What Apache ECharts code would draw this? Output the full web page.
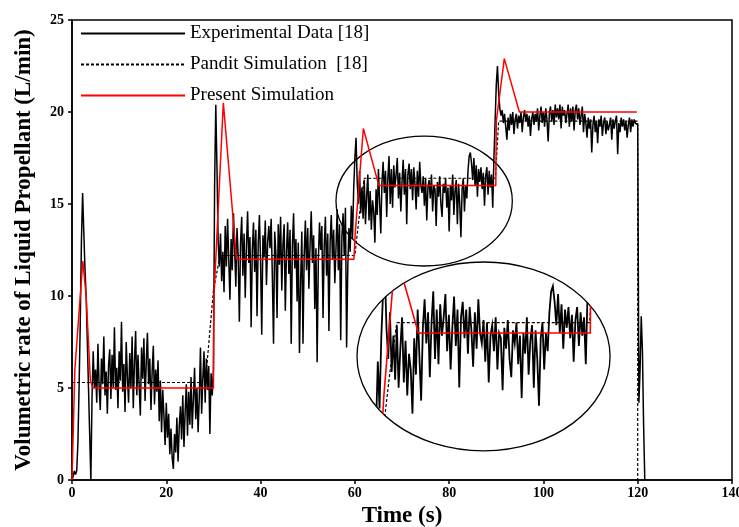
<!DOCTYPE html>
<html>
<head>
<meta charset="utf-8">
<script src="https://cdn.jsdelivr.net/npm/echarts@6/dist/echarts.min.js"></script>
<style>
html,body{margin:0;padding:0;background:#fff}
#main{width:739px;height:527px}
</style>
</head>
<body>
<div id="main"></div>
<script>
// 实验数据: 每0.25s一个点
var STEP = 0.25;
var expValues = [
	0, 0.2, 0.5, 0.3,
	0.5, 2.0, 5.0, 8.5,
	13.0, 15.6, 13.5, 11.5,
	10.0, 7.5, 5.0, 2.5,
	0.0, 4.5, 7.0, 5.0,
	6.0, 4.2, 7.4, 5.1,
	3.8, 6.6, 5.2, 7.8,
	4.6, 5.9, 3.6, 6.2,
	7.1, 4.4, 6.8, 5.0,
	8.3, 4.9, 6.1, 3.9,
	7.0, 5.4, 8.6, 4.8,
	6.3, 3.7, 7.5, 5.6,
	4.2, 6.9, 5.0, 7.8,
	3.9, 6.4, 8.1, 4.6,
	6.8, 5.1, 3.5, 7.2,
	5.5, 7.7, 4.3, 6.4,
	8.0, 5.2, 6.6, 3.8,
	5.9, 7.3, 4.1, 6.0,
	4.8, 6.5, 3.2, 5.4,
	2.6, 4.9, 3.5, 1.9,
	4.2, 2.3, 3.6, 1.4,
	2.8, 1.2, 0.6, 2.5,
	1.5, 3.4, 1.0, 2.9,
	4.0, 2.2, 4.6, 1.8,
	3.7, 5.2, 2.4, 4.8,
	3.0, 5.6, 2.8, 4.4,
	6.1, 3.3, 5.0, 2.6,
	4.5, 7.2, 3.6, 5.5,
	7.0, 4.2, 6.6, 4.9,
	6.2, 2.5, 5.8, 4.6,
	6.0, 16.0, 20.4, 17.0,
	13.0, 11.6, 13.4, 10.8,
	12.4, 10.2, 13.8, 11.6,
	14.2, 12.0, 9.8, 13.1,
	11.4, 14.5, 12.6, 10.5,
	13.7, 12.2, 8.6, 12.9,
	14.3, 11.1, 13.4, 9.9,
	12.7, 14.6, 11.8, 13.2,
	8.3, 12.5, 14.0, 11.3,
	13.6, 8.9, 12.8, 14.4,
	11.9, 7.9, 13.3, 12.1,
	14.1, 10.6, 12.9, 13.8,
	12.6, 14.2, 11.0, 7.4,
	13.5, 12.3, 8.8, 13.9,
	11.7, 14.3, 10.3, 12.8,
	13.9, 9.2, 12.4, 14.0,
	11.2, 13.6, 7.4, 12.7,
	14.5, 11.5, 13.1, 9.7,
	12.9, 6.9, 10.8, 13.5,
	7.4, 12.2, 14.1, 11.4,
	13.7, 10.4, 12.8, 14.6,
	11.8, 13.3, 9.3, 12.6,
	6.4, 11.9, 14.0, 12.5,
	13.8, 8.8, 12.7, 14.3,
	11.1, 13.4, 8.1, 12.9,
	14.4, 12.0, 13.6, 10.7,
	12.6, 14.7, 11.4, 13.9,
	7.6, 13.2, 14.5, 12.2,
	14.8, 7.2, 11.6, 13.7,
	12.4, 14.9, 13.1, 15.8,
	17.5, 18.6, 16.2, 15.0,
	16.8, 14.5, 15.9, 14.2,
	16.3, 13.9, 15.4, 16.6,
	14.1, 15.7, 13.6, 15.2,
	14.6, 12.9, 15.8, 14.4,
	16.9, 15.1, 13.4, 16.2,
	17.3, 15.6, 16.8, 14.3,
	16.4, 17.6, 15.0, 16.9,
	14.8, 17.1, 15.9, 16.6,
	17.5, 15.3, 16.7, 14.6,
	16.2, 17.4, 15.5, 16.9,
	13.9, 16.6, 17.2, 15.8,
	16.9, 15.2, 17.0, 16.1,
	14.7, 16.8, 15.4, 17.3,
	16.0, 15.6, 16.5, 14.9,
	16.4, 14.1, 15.9, 16.3,
	15.3, 16.6, 14.6, 16.0,
	15.8, 13.8, 16.2, 15.4,
	16.5, 15.0, 14.3, 16.1,
	15.6, 16.4, 14.8, 15.9,
	13.5, 16.0, 15.2, 16.6,
	14.4, 15.7, 16.3, 13.9,
	16.1, 15.0, 13.2, 15.8,
	16.4, 14.6, 16.0, 15.3,
	16.8, 17.6, 17.8, 17.2,
	16.3, 17.5, 16.0, 17.1,
	15.4, 16.9, 16.2, 17.0,
	15.8, 16.7, 14.9, 16.5,
	17.0, 15.5, 16.8, 15.9,
	16.6, 14.8, 17.5, 19.5,
	21.5, 22.5, 21.0, 20.2,
	19.8, 20.1, 19.4, 19.9,
	19.2, 18.5, 19.7, 19.0,
	19.9, 19.3, 20.0, 18.8,
	19.6, 19.9, 19.1, 19.8,
	19.4, 20.0, 18.9, 19.7,
	20.1, 19.5, 19.9, 19.2,
	19.8, 18.7, 19.6, 20.0,
	19.3, 19.9, 19.5, 20.2,
	19.0, 19.8, 20.3, 19.4,
	20.0, 19.2, 20.2, 19.6,
	18.4, 19.9, 20.3, 19.5,
	20.1, 19.3, 20.4, 19.7,
	20.2, 19.6, 20.4, 19.1,
	20.3, 19.8, 20.1, 19.4,
	19.9, 20.4, 19.2, 20.2,
	19.5, 20.3, 19.0, 20.1,
	20.4, 19.6, 20.2, 19.3,
	19.8, 20.3, 18.9, 19.9,
	19.4, 18.6, 19.7, 19.1,
	19.6, 17.8, 19.3, 19.8,
	18.9, 19.5, 18.3, 19.6,
	19.2, 19.8, 18.7, 19.4,
	19.7, 18.8, 19.5, 19.0,
	19.3, 19.7, 18.5, 19.6,
	19.1, 19.5, 19.8, 17.7,
	19.4, 18.9, 19.7, 19.2,
	19.6, 19.0, 19.5, 18.6,
	19.3, 19.7, 18.9, 19.6,
	19.2, 19.6, 19.4, 19.5,
	19.3, 4.2, 6.0, 8.9,
	7.0, 3.0, 0.0
];
// Pandit 模拟 (虚线)
var panditPts = [[0,5.3],[27.5,5.3],[28.6,6.2],[30,10.3],[31.4,12.2],[60,12.2],[61,14.5],[62,16.4],[89.8,16.4],[90.5,19.5],[120,19.5],[120,0]];
// 本文模拟 (红线)
var presentPts = [[0,0],[0.6,6.0],[1.0,6.0],[2.3,11.9],[3.0,10.0],[3.9,5.4],[4.4,5.0],[30.0,5.0],[30.1,9.9],[32.1,20.5],[34.9,12.0],[59.8,12.0],[60.1,13.5],[61.8,19.1],[65.1,16.0],[89.9,16.0],[90.0,19.5],[91.7,22.9],[94.9,20.0],[119.8,20.0]];
var xTicks = [0, 20, 40, 60, 80, 100, 120, 140];
var yTicks = [0, 5, 10, 15, 20, 25];
var names = ['Experimental Data [18]', 'Pandit Simulation  [18]', 'Present Simulation'];

// 椭圆标注 (cx, cy, rx, ry 数据单位)
var ellMain = [74.7, 15.16, 18.7, 3.53];
var ellInset = [74.5, 15.1, 18.25, 3.63];

var expPts = expValues.map(function(v, i){ return [i*STEP, v]; });
function inRange(p){ return p[0] >= 59 && p[0] <= 91; }

var serif = 'Liberation Serif, Times New Roman, serif';
var chart = echarts.init(document.getElementById('main'));

function ellipseSeries(e, idx){
	return {
		type: 'custom', xAxisIndex: idx, yAxisIndex: idx, silent: true, clip: false,
		data: [[e[0], e[1]]],
		renderItem: function(params, api){
			var c = api.coord([e[0], e[1]]);
			var s = api.size([e[2], e[3]]);
			return {type: 'ellipse', shape: {cx: c[0], cy: c[1], rx: s[0], ry: s[1]},
				style: {fill: 'none', stroke: '#000', lineWidth: 1.3}};
		}
	};
}
// 放大的局部图, 裁剪到椭圆内
function insetSeries(pts, style){
	var sub = pts.filter(inRange);
	return {
		type: 'custom', xAxisIndex: 1, yAxisIndex: 1, silent: true, clip: false,
		data: [sub[0]],
		renderItem: function(params, api){
			var c = api.coord([ellInset[0], ellInset[1]]);
			var s = api.size([ellInset[2], ellInset[3]]);
			var points = sub.map(function(p){ return api.coord(p); });
			return {type: 'polyline', shape: {points: points},
				style: Object.assign({fill: 'none'}, style),
				clipPath: {type: 'ellipse', shape: {cx: c[0], cy: c[1], rx: s[0], ry: s[1]}}};
		}
	};
}

var option = {
	animation: false,
	backgroundColor: '#fff',
	textStyle: {fontFamily: serif},
	legend: {
		data: names, orient: 'vertical', left: 75, top: 19,
		itemWidth: 104, itemHeight: 18, itemGap: 12,
		itemStyle: {opacity: 0},
		textStyle: {fontFamily: serif, fontSize: 19, color: '#000'}
	},
	grid: [
		{left: 72, right: 7, top: 20, bottom: 47, outerBoundsMode: 'none', show: true, borderColor: '#000', borderWidth: 1.5},
		{left: 383, top: 229, width: 208, height: 208, outerBoundsMode: 'none'}
	],
	xAxis: [{
		type: 'value', min: 0, max: 140, interval: 20,
		name: 'Time (s)', nameLocation: 'middle', nameGap: 22,
		nameTextStyle: {fontFamily: serif, fontSize: 23, fontWeight: 'bold', color: '#000'},
		axisLine: {lineStyle: {color: '#000', width: 1.5}},
		axisTick: {length: 4, lineStyle: {color: '#000', width: 1.5}},
		axisLabel: {fontFamily: serif, fontSize: 14, fontWeight: 'bold', color: '#000', margin: 6},
		splitLine: {show: false}
	}, {
		type: 'value', gridIndex: 1, min: 60, max: 90, show: false
	}],
	yAxis: [{
		type: 'value', min: 0, max: 25, interval: 5,
		name: 'Volumetric rate of Liquid Propellant (L/min)', nameLocation: 'middle', nameGap: 36,
		nameTextStyle: {fontFamily: serif, fontSize: 23, fontWeight: 'bold', color: '#000'},
		axisLine: {lineStyle: {color: '#000', width: 1.5}},
		axisTick: {length: 4, lineStyle: {color: '#000', width: 1.5}},
		axisLabel: {fontFamily: serif, fontSize: 14, fontWeight: 'bold', color: '#000', margin: 8},
		splitLine: {show: false}
	}, {
		type: 'value', gridIndex: 1, min: 12, max: 20, show: false
	}],
	series: [
		{name: names[0], type: 'line', data: expPts, symbol: 'none', z: 3,
			lineStyle: {color: '#000', width: 1.5}, itemStyle: {color: '#000'}},
		{name: names[1], type: 'line', data: panditPts, symbol: 'none', z: 4,
			lineStyle: {color: '#000', width: 1.2, type: [3, 2]}, itemStyle: {color: '#000'}},
		{name: names[2], type: 'line', data: presentPts, symbol: 'none', z: 5,
			lineStyle: {color: '#ff0000', width: 1.5}, itemStyle: {color: '#ff0000'}},
		ellipseSeries(ellMain, 0),
		ellipseSeries(ellInset, 1),
		insetSeries(expPts, {stroke: '#000', lineWidth: 1.8}),
		insetSeries(panditPts, {stroke: '#000', lineWidth: 1.2, lineDash: [3, 2]}),
		insetSeries(presentPts, {stroke: '#ff0000', lineWidth: 1.6})
	]
};
chart.setOption(option);
</script>
</body>
</html>
